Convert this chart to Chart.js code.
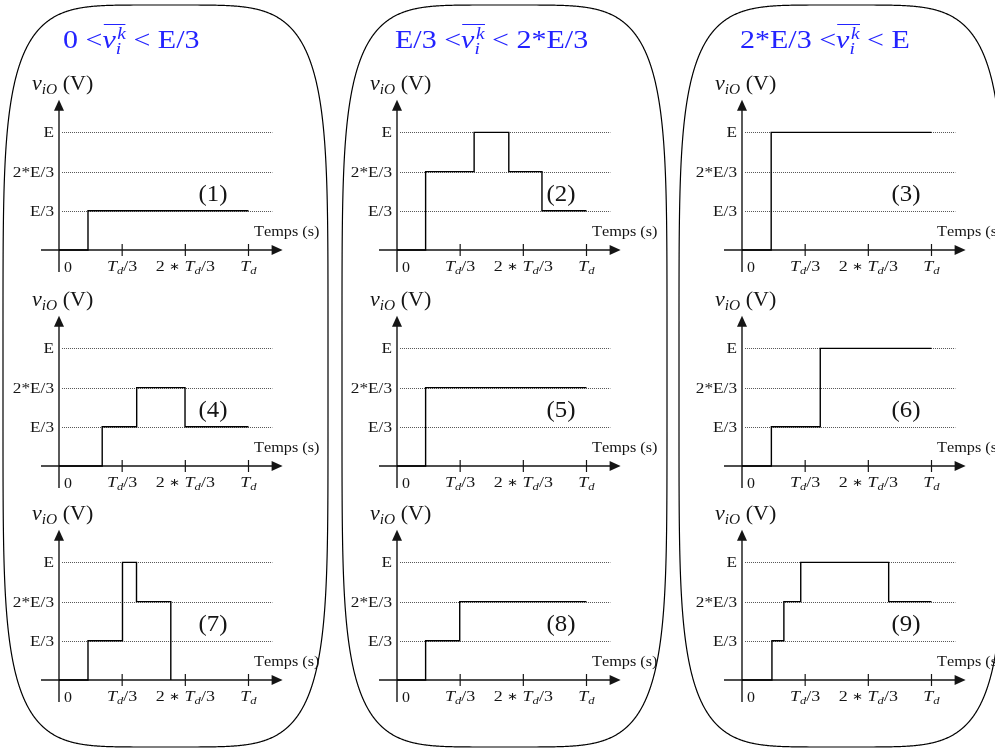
<!DOCTYPE html>
<html>
<head>
<meta charset="utf-8">
<script src="https://cdn.jsdelivr.net/npm/chart.js@4.4.1/dist/chart.umd.min.js"></script>
<style>
    body { margin: 0; width: 995px; height: 748px; overflow: hidden; position: relative; background: #fff; }
    #frames { position: absolute; left: 0; top: 0; }
    .panel { position: absolute; }
    .title {
        position: absolute; top: 27px; font: 25px "Liberation Serif", serif; color: #2323ff;
        line-height: 1; white-space: nowrap; transform: scaleX(1.2); transform-origin: 0 0;
    }
    .title sup, .title sub { font-size: 0.65em; line-height: 0; font-style: italic; }
    .vbar { position: relative; }
    .vbar .bar { position: absolute; left: 1px; right: 0; top: -2px; border-top: 1.3px solid #2323ff; }
</style>
</head>
<body>
<canvas id="frames" width="995" height="748"></canvas>
<div class="title" style="left:63px">0 &lt;<span class="vbar"><i>v</i><sub>i</sub><sup style="margin-left:-0.2em">k</sup><span class="bar"></span></span> &lt; E/3</div>
<div class="title" style="left:395px">E/3 &lt;<span class="vbar"><i>v</i><sub>i</sub><sup style="margin-left:-0.2em">k</sup><span class="bar"></span></span> &lt; 2*E/3</div>
<div class="title" style="left:740px">2*E/3 &lt;<span class="vbar"><i>v</i><sub>i</sub><sup style="margin-left:-0.2em">k</sup><span class="bar"></span></span> &lt; E</div>
<div id="panels"></div>
<script>
'use strict';

// 시간축: Td 단위, 전압: E/3 단위
const temps1 = [0, 0.153, 1];
const tension1 = [0, 1, 1];
const temps2 = [0, 0.151, 0.407, 0.59, 0.765, 1];
const tension2 = [0, 2, 3, 2, 1, 1];
const temps3 = [0, 0.154, 1];
const tension3 = [0, 3, 3];
const temps4 = [0, 0.228, 0.41, 0.665, 1];
const tension4 = [0, 1, 2, 1, 1];
const temps5 = [0, 0.151, 1];
const tension5 = [0, 2, 2];
const temps6 = [0, 0.155, 0.413, 1];
const tension6 = [0, 1, 3, 3];
const temps7 = [0, 0.153, 0.335, 0.409, 0.59];
const tension7 = [0, 1, 3, 2, 0];
const temps8 = [0, 0.151, 0.331, 1];
const tension8 = [0, 1, 2, 2];
const temps9 = [0, 0.158, 0.221, 0.31, 0.774, 1];
const tension9 = [0, 1, 2, 3, 2, 2];

const yTickValues = [1, 2, 3];
const yTickLabels = ['E/3', '2*E/3', 'E'];
const xTickValues = [0, 1 / 3, 2 / 3, 1];
const xTickLabels = ['0', '$T_d$/3', '2 ∗ $T_d$/3', '$T_d$'];
const panelNames = ['(1)', '(2)', '(3)', '(4)', '(5)', '(6)', '(7)', '(8)', '(9)'];

const panelTemps = [temps1, temps2, temps3, temps4, temps5, temps6, temps7, temps8, temps9];
const panelTension = [tension1, tension2, tension3, tension4, tension5, tension6, tension7, tension8, tension9];

// 레이아웃
const COL_X0 = [59, 397, 742];
const ROW_Y0 = [250, 466, 680];
const PX_PER_TD = 189.5;
const PX_PER_STEP = 39.2;
const BOX = { left: 52, top: 182, width: 325, height: 215 };
const FONT = '"Liberation Serif", serif';
const INK = '#151515';

// 간단한 수식 텍스트 ($..$ 안은 이탤릭, _ 는 아래첨자)
function parseRich(str) {
    const segs = [];
    let math = false;
    let i = 0;
    while (i < str.length) {
        const c = str[i];
        if (c === '$') { math = !math; i++; continue; }
        if (math && c === '_') {
            let sub;
            if (str[i + 1] === '{') {
                const j = str.indexOf('}', i);
                sub = str.slice(i + 2, j);
                i = j + 1;
            } else {
                sub = str[i + 1];
                i += 2;
            }
            segs.push({ text: sub, italic: true, sub: true });
            continue;
        }
        segs.push({ text: c, italic: math && /[A-Za-z]/.test(c), sub: false, small: c === '∗' });
        i++;
    }
    return segs;
}

function drawRich(ctx, str, x, y, size, sx, align) {
    const segs = parseRich(str);
    const fontFor = s => {
        const fs = s.sub ? size * 0.7 : s.small ? size * 0.7 : size;
        return `${s.italic ? 'italic ' : ''}${fs}px ${FONT}`;
    };
    let w = 0;
    segs.forEach(s => {
        ctx.font = fontFor(s);
        s.w = ctx.measureText(s.text).width;
        w += s.w;
    });
    ctx.save();
    ctx.translate(x, y);
    ctx.scale(sx, 1);
    let cx = align === 'center' ? -w / 2 : align === 'right' ? -w : 0;
    ctx.textAlign = 'left';
    ctx.textBaseline = 'alphabetic';
    ctx.fillStyle = INK;
    segs.forEach(s => {
        ctx.font = fontFor(s);
        const dy = s.sub ? size * 0.22 : s.small ? -size * 0.05 : 0;
        ctx.fillText(s.text, cx, dy);
        cx += s.w;
    });
    ctx.restore();
}

function arrowHead(ctx, tipX, tipY, dir) {
    const len = 11, half = 5;
    ctx.beginPath();
    if (dir === 'right') {
        ctx.moveTo(tipX, tipY);
        ctx.lineTo(tipX - len, tipY - half);
        ctx.lineTo(tipX - len, tipY + half);
    } else {
        ctx.moveTo(tipX, tipY);
        ctx.lineTo(tipX - half, tipY + len);
        ctx.lineTo(tipX + half, tipY + len);
    }
    ctx.closePath();
    ctx.fill();
}

// 축, 점선, 눈금, 라벨
const panelAxesPlugin = {
    id: 'panelAxes',
    beforeDatasetsDraw(chart) {
        const { ctx, scales: { x, y } } = chart;
        const x0 = x.getPixelForValue(0);
        const y0 = y.getPixelForValue(0);
        ctx.save();

        // 점선 가이드
        ctx.strokeStyle = '#555';
        ctx.lineWidth = 1;
        ctx.setLineDash([1, 1]);
        yTickValues.forEach(v => {
            const py = Math.round(y.getPixelForValue(v)) + 0.5;
            ctx.beginPath();
            ctx.moveTo(x.getPixelForValue(0.016), py);
            ctx.lineTo(x.getPixelForValue(1.126), py);
            ctx.stroke();
        });
        ctx.setLineDash([]);

        // 축
        ctx.strokeStyle = INK;
        ctx.fillStyle = INK;
        ctx.lineWidth = 1.4;
        const xEnd = x.getPixelForValue(1.18);
        const yEnd = y.getPixelForValue(3.83);
        ctx.beginPath();
        ctx.moveTo(x.getPixelForValue(-0.095), y0);
        ctx.lineTo(xEnd - 8, y0);
        ctx.moveTo(x0, y.getPixelForValue(-0.56));
        ctx.lineTo(x0, yEnd + 8);
        ctx.stroke();
        arrowHead(ctx, xEnd, y0, 'right');
        arrowHead(ctx, x0, yEnd, 'up');

        // x 눈금
        ctx.lineWidth = 1.2;
        xTickValues.forEach(v => {
            if (v === 0) return;
            const px = x.getPixelForValue(v);
            ctx.beginPath();
            ctx.moveTo(px, y0 - 6);
            ctx.lineTo(px, y0 + 6);
            ctx.stroke();
        });
        ctx.restore();
    },
    afterDatasetsDraw(chart, args, opts) {
        const { ctx, scales: { x, y } } = chart;
        const x0 = x.getPixelForValue(0);
        const y0 = y.getPixelForValue(0);

        yTickValues.forEach((v, i) => {
            drawRich(ctx, yTickLabels[i], x0 - 5, y.getPixelForValue(v) + 5, 15, 1.15, 'right');
        });
        xTickValues.forEach((v, i) => {
            if (v === 0) {
                drawRich(ctx, xTickLabels[i], x0 + 5, y0 + 22, 14.5, 1.1, 'left');
            } else {
                drawRich(ctx, xTickLabels[i], x.getPixelForValue(v), y0 + 21, 15, 1.2, 'center');
            }
        });
        drawRich(ctx, '$v_{iO}$ (V)', x0 - 27, y0 - 160, 20, 1.1, 'left');
        drawRich(ctx, 'Temps (s)', x0 + 195, y0 - 14, 15.5, 1.05, 'left');
        drawRich(ctx, opts.name, x0 + opts.nameDx, y0 - 49, 23, 1.08, 'center');
    }
};

// 둥근 테두리 (슈퍼타원)
function drawFrames() {
    const ctx = document.getElementById('frames').getContext('2d');
    const boxes = [[3, 5, 328, 747], [342, 5, 667, 747], [679, 5, 1004, 747]];
    ctx.strokeStyle = '#000';
    ctx.lineWidth = 1.2;
    boxes.forEach(([l, t, r, b]) => {
        const cx = (l + r) / 2, cy = (t + b) / 2;
        const a = (r - l) / 2, bb = (b - t) / 2;
        const n = 5;
        ctx.beginPath();
        for (let k = 0; k <= 1440; k++) {
            const th = (k / 1440) * Math.PI * 2;
            const c = Math.cos(th), s = Math.sin(th);
            const px = cx + a * Math.sign(c) * Math.pow(Math.abs(c), 2 / n);
            const py = cy + bb * Math.sign(s) * Math.pow(Math.abs(s), 2 / n);
            if (k === 0) ctx.moveTo(px, py); else ctx.lineTo(px, py);
        }
        ctx.closePath();
        ctx.stroke();
    });
}

function createPanel(k) {
    const col = k % 3;
    const row = Math.floor(k / 3);
    const x0 = COL_X0[col];
    const y0 = ROW_Y0[row];

    const canvas = document.createElement('canvas');
    canvas.className = 'panel';
    canvas.width = BOX.width;
    canvas.height = BOX.height;
    canvas.style.left = (x0 - BOX.left) + 'px';
    canvas.style.top = (y0 - BOX.top) + 'px';
    document.getElementById('panels').appendChild(canvas);

    const points = panelTemps[k].map((t, i) => ({ x: t, y: panelTension[k][i] }));

    new Chart(canvas, {
        type: 'line',
        data: {
            datasets: [{
                data: points,
                stepped: true,
                borderColor: '#000',
                borderWidth: 1.4,
                pointRadius: 0,
                fill: false
            }]
        },
        options: {
            responsive: false,
            animation: false,
            events: [],
            layout: { padding: 0 },
            plugins: {
                legend: { display: false },
                tooltip: { enabled: false },
                panelAxes: { name: panelNames[k], nameDx: col === 0 ? 154 : 164 }
            },
            scales: {
                x: {
                    type: 'linear',
                    display: false,
                    min: -BOX.left / PX_PER_TD,
                    max: (BOX.width - BOX.left) / PX_PER_TD
                },
                y: {
                    type: 'linear',
                    display: false,
                    min: -(BOX.height - BOX.top) / PX_PER_STEP,
                    max: BOX.top / PX_PER_STEP
                }
            }
        },
        plugins: [panelAxesPlugin]
    });
}

document.addEventListener('DOMContentLoaded', () => {
    drawFrames();
    for (let k = 0; k < 9; k++) createPanel(k);
});
</script>
</body>
</html>
